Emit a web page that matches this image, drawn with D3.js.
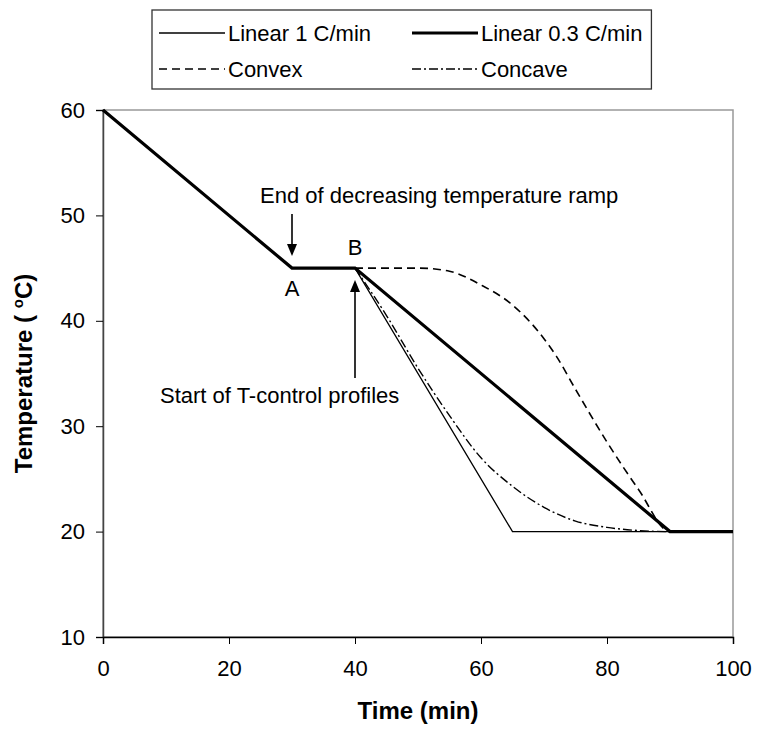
<!DOCTYPE html>
<html>
<head>
<meta charset="utf-8">
<script src="https://cdn.jsdelivr.net/npm/d3@7"></script>
<style>
  body { margin: 0; background: #fff; }
  svg text { font-family: "Liberation Sans", Arial, sans-serif; }
</style>
</head>
<body>
<div id="chart"></div>
<script>
// series (time in min, temperature in C)
var linear1 = [[0, 60], [30, 45], [40, 45], [65, 20], [100, 20]];
var linear03 = [[0, 60], [30, 45], [40, 45], [90, 20], [100, 20]];
var convex = [[40, 45], [45, 45], [50, 45], [55, 44.7], [60, 43.4], [65, 41.5], [70, 38.3],
              [72, 36.6], [75, 33.5], [80, 28.5], [85, 24], [90, 20], [100, 20]];
var concave = [[40, 45], [45, 40.5], [50, 35.5], [55, 31], [60, 27], [65, 24.3], [70, 22.3],
               [75, 21], [80, 20.4], [85, 20.1], [90, 20], [100, 20]];
var xTicks = [0, 20, 40, 60, 80, 100];
var yTicks = [10, 20, 30, 40, 50, 60];
var legendNames = ["Linear 1 C/min", "Linear 0.3 C/min", "Convex", "Concave"];

var width = 758, height = 729;
var svg = d3.select("#chart").append("svg")
    .attr("width", width)
    .attr("height", height);

var x = d3.scaleLinear().domain([0, 100]).range([103, 733]);
var y = d3.scaleLinear().domain([10, 60]).range([637, 110]);

// plot area border
svg.append("rect")
    .attr("x", x(0)).attr("y", y(60))
    .attr("width", x(100) - x(0)).attr("height", y(10) - y(60))
    .attr("fill", "none").attr("stroke", "#999").attr("stroke-width", 1.5);

var yAxis = svg.append("g")
    .attr("transform", "translate(" + x(0) + ",0)")
    .call(d3.axisLeft(y).tickValues(yTicks).tickSize(7).tickPadding(11).tickFormat(d3.format("d")));
yAxis.select(".domain").attr("stroke", "#444").attr("stroke-width", 1.5);
yAxis.selectAll("text").attr("font-size", 22).attr("fill", "#000");

var xAxis = svg.append("g")
    .attr("transform", "translate(0," + y(10) + ")")
    .call(d3.axisBottom(x).tickValues(xTicks).tickSize(7).tickPadding(16).tickFormat(d3.format("d")));
xAxis.select(".domain").attr("stroke", "#000").attr("stroke-width", 1.5);
xAxis.selectAll("text").attr("font-size", 22).attr("fill", "#000");

// axis titles
svg.append("text")
    .attr("x", 418).attr("y", 719)
    .attr("text-anchor", "middle")
    .attr("font-size", 24).attr("font-weight", "bold")
    .text("Time (min)");

var yt = svg.append("text")
    .attr("transform", "translate(32," + (y(35)) + ") rotate(-90)")
    .attr("text-anchor", "middle")
    .attr("font-size", 24).attr("font-weight", "bold");
yt.append("tspan").text("Temperature ( ");
yt.append("tspan").attr("font-size", 15).attr("dy", -9).text("o");
yt.append("tspan").attr("dy", 9).text("C)");

var line = d3.line().x(d => x(d[0])).y(d => y(d[1]));
var smooth = d3.line().x(d => x(d[0])).y(d => y(d[1])).curve(d3.curveMonotoneX);

var styles = [
  { data: linear1, gen: line, w: 1.3, dash: null },
  { data: concave, gen: smooth, w: 1.4, dash: "9,3,2,3" },
  { data: convex, gen: smooth, w: 1.6, dash: "8,5" },
  { data: linear03, gen: line, w: 3.2, dash: null }
];
styles.forEach(function (s) {
  svg.append("path")
      .attr("d", s.gen(s.data))
      .attr("fill", "none")
      .attr("stroke", "#000")
      .attr("stroke-width", s.w)
      .attr("stroke-dasharray", s.dash);
});

// annotations
function arrow(x0, y0, y1) {
  var dir = y1 > y0 ? 1 : -1;
  svg.append("line").attr("x1", x0).attr("x2", x0).attr("y1", y0).attr("y2", y1 - dir * 10)
      .attr("stroke", "#000").attr("stroke-width", 1.6);
  svg.append("path")
      .attr("d", "M" + (x0 - 5) + "," + (y1 - dir * 12) + "L" + x0 + "," + y1 + "L" + (x0 + 5) + "," + (y1 - dir * 12) + "Z")
      .attr("fill", "#000");
}
svg.append("text").attr("x", 260).attr("y", 203).attr("font-size", 22)
    .text("End of decreasing temperature ramp");
arrow(x(30), 214, y(45) - 12);
svg.append("text").attr("x", x(30)).attr("y", y(45) + 28).attr("text-anchor", "middle")
    .attr("font-size", 22).text("A");
svg.append("text").attr("x", x(40)).attr("y", y(45) - 13).attr("text-anchor", "middle")
    .attr("font-size", 22).text("B");
arrow(x(40), 378, y(45) + 12);
svg.append("text").attr("x", 160).attr("y", 403).attr("font-size", 22)
    .text("Start of T-control profiles");

// legend
var lg = svg.append("g");
var box = lg.append("rect").attr("x", 152).attr("y", 10).attr("height", 79)
    .attr("fill", "#fff").attr("stroke", "#333").attr("stroke-width", 1.3);
var legendStyles = [
  { w: 1.3, dash: null }, { w: 3.2, dash: null }, { w: 1.6, dash: "8,5" }, { w: 1.4, dash: "9,3,2,3" }
];
var rightEdge = 0;
legendNames.forEach(function (name, i) {
  var col = i % 2, row = Math.floor(i / 2);
  var lx = col === 0 ? 159 : 412;
  var ly = row === 0 ? 33 : 69;
  lg.append("line").attr("x1", lx).attr("x2", lx + 66).attr("y1", ly).attr("y2", ly)
      .attr("stroke", "#000").attr("stroke-width", legendStyles[i].w)
      .attr("stroke-dasharray", legendStyles[i].dash);
  var t = lg.append("text").attr("x", lx + 69).attr("y", ly + 8).attr("font-size", 22).text(name);
  rightEdge = Math.max(rightEdge, lx + 69 + t.node().getComputedTextLength());
});
box.attr("width", rightEdge + 9 - 152);
</script>
</body>
</html>
